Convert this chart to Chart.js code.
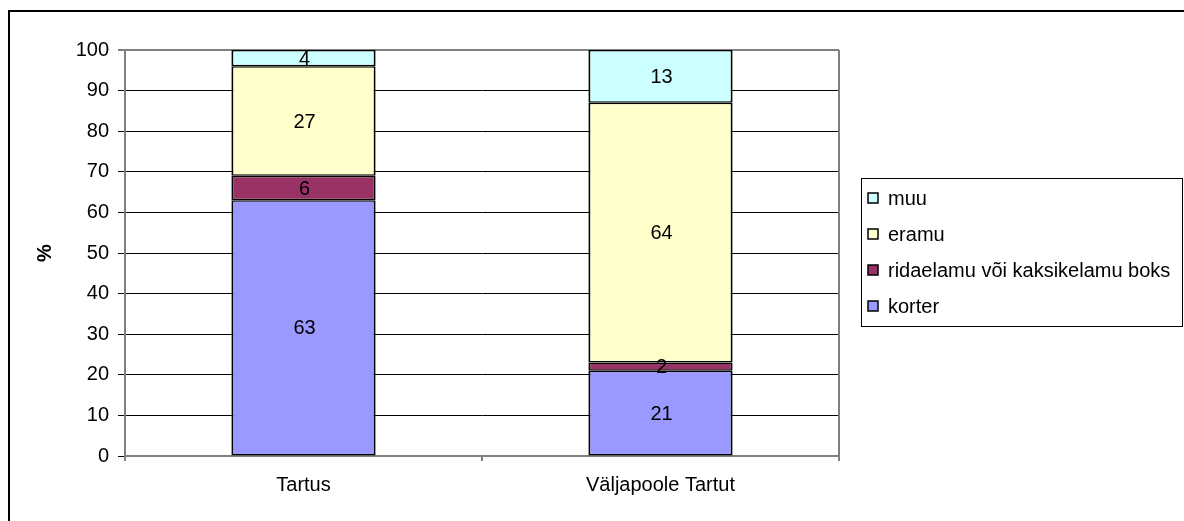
<!DOCTYPE html>
<html>
<head>
<meta charset="utf-8">
<script src="https://cdn.jsdelivr.net/npm/chart.js@4"></script>
<style>
  html, body { margin: 0; padding: 0; background: #fff; }
  #wrap { width: 1184px; height: 521px; }
</style>
</head>
<body>
<div id="wrap"><canvas id="chart" width="1184" height="521"></canvas></div>
<script>
var categories = ['Tartus', 'Väljapoole Tartut'];
var seriesNames = ['korter', 'ridaelamu või kaksikelamu boks', 'eramu', 'muu'];
var korter = [63, 21];
var ridaelamu = [6, 2];
var eramu = [27, 64];
var muu = [4, 13];
var yTicks = [0, 10, 20, 30, 40, 50, 60, 70, 80, 90, 100];

var colors = ['#9999FF', '#993366', '#FFFFCC', '#CCFFFF'];
var FONT = '"Liberation Sans", Arial, sans-serif';
var FS = 20;

function ds(label, data, color) {
    return {
        label: label,
        data: data,
        backgroundColor: color,
        borderColor: '#000',
        borderWidth: { top: 1.5, bottom: 1.5, left: 2, right: 2 },
        borderSkipped: false,
        categoryPercentage: 1,
        barPercentage: 0.404
    };
}

// numbers in the middle of each segment
var segLabels = {
    id: 'segLabels',
    afterDatasetsDraw(chart) {
        var ctx = chart.ctx;
        ctx.save();
        ctx.font = FS + 'px ' + FONT;
        ctx.fillStyle = '#000';
        ctx.textAlign = 'center';
        ctx.textBaseline = 'middle';
        chart.data.datasets.forEach((d, i) => {
            chart.getDatasetMeta(i).data.forEach((bar, j) => {
                var mid = (bar.y + bar.base) / 2;
                ctx.fillText(d.data[j], bar.x + 1, mid + 1);
            });
        });
        ctx.restore();
    }
};

// frame, right plot border and the legend box
var extras = {
    id: 'extras',
    afterDraw(chart) {
        var ctx = chart.ctx;
        var a = chart.chartArea;
        ctx.save();
        ctx.strokeStyle = '#000';
        ctx.lineWidth = 2;
        ctx.beginPath();
        ctx.moveTo(9, 530);
        ctx.lineTo(9, 11);
        ctx.lineTo(1200, 11);
        ctx.stroke();

        ctx.strokeStyle = '#808080';
        ctx.lineWidth = 2;
        ctx.beginPath();
        ctx.moveTo(a.right, a.top);
        ctx.lineTo(a.right, a.bottom + 5);
        ctx.stroke();

        // legend
        ctx.strokeStyle = '#000';
        ctx.lineWidth = 1;
        ctx.strokeRect(861.5, 178.5, 321, 148);
        ctx.font = FS + 'px ' + FONT;
        ctx.textBaseline = 'middle';
        ctx.textAlign = 'left';
        var n = chart.data.datasets.length;
        for (var k = 0; k < n; k++) {
            var d = chart.data.datasets[n - 1 - k];
            var y = 198 + k * 36;
            ctx.fillStyle = d.backgroundColor;
            ctx.fillRect(868, y - 5, 10, 10);
            ctx.strokeStyle = '#000';
            ctx.lineWidth = 1.5;
            ctx.strokeRect(868, y - 5, 10, 10);
            ctx.fillStyle = '#000';
            ctx.fillText(d.label, 888, y + 1);
        }
        ctx.restore();
    }
};

new Chart(document.getElementById('chart'), {
    type: 'bar',
    data: {
        labels: categories,
        datasets: [
            ds(seriesNames[0], korter, colors[0]),
            ds(seriesNames[1], ridaelamu, colors[1]),
            ds(seriesNames[2], eramu, colors[2]),
            ds(seriesNames[3], muu, colors[3])
        ]
    },
    options: {
        responsive: false,
        animation: false,
        devicePixelRatio: 1,
        layout: { padding: { top: 50, right: 345, left: 0, bottom: 0 } },
        plugins: {
            legend: { display: false },
            tooltip: { enabled: false }
        },
        scales: {
            x: {
                stacked: true,
                grid: {
                    drawOnChartArea: false,
                    drawTicks: true,
                    tickLength: 5,
                    color: '#808080',
                    lineWidth: 2
                },
                border: { color: '#808080', width: 2 },
                ticks: { color: '#000', font: { family: FONT, size: FS }, padding: 12 },
                afterFit(s) { s.height = 65; }
            },
            y: {
                stacked: true,
                min: 0,
                max: 100,
                afterBuildTicks(s) { s.ticks = yTicks.map(v => ({ value: v })); },
                grid: {
                    color: c => (c.tick && c.tick.value === 100 ? '#808080' : '#000'),
                    lineWidth: c => (c.tick && c.tick.value === 100 ? 2 : 1),
                    tickLength: 7,
                    drawTicks: true
                },
                border: { color: '#808080', width: 2 },
                ticks: { color: '#000', font: { family: FONT, size: FS }, padding: 9 },
                title: {
                    display: true,
                    text: '%',
                    color: '#000',
                    font: { family: FONT, size: FS, weight: 'bold' },
                    padding: { top: 33, bottom: 0 }
                },
                afterFit(s) { s.width = 125; }
            }
        }
    },
    plugins: [segLabels, extras]
});
</script>
</body>
</html>
